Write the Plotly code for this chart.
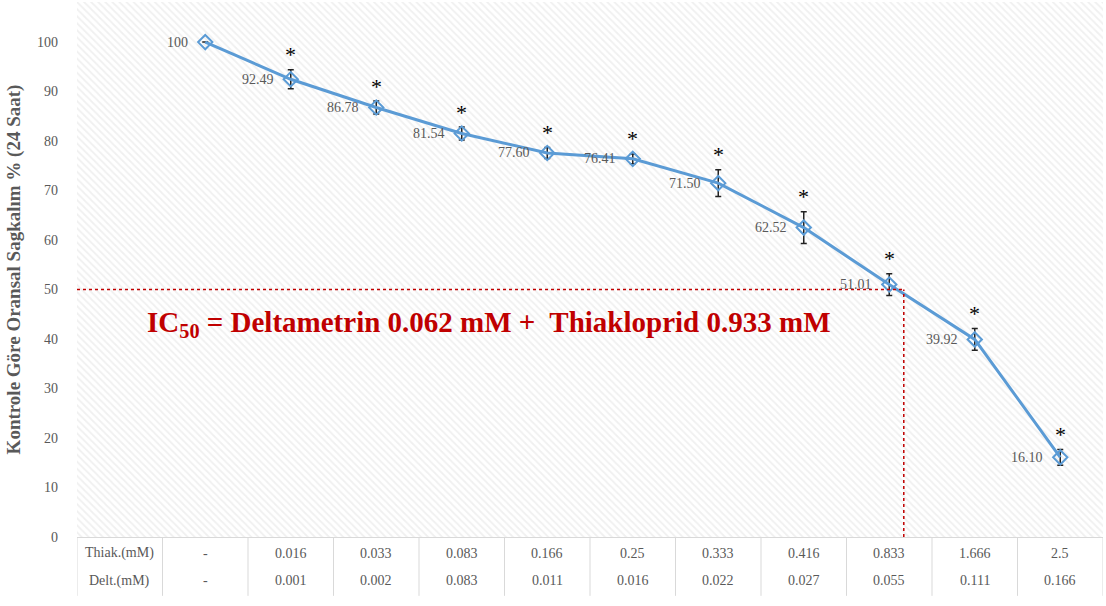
import plotly.graph_objects as go

# ---- data ----
thiak = ["-", "0.016", "0.033", "0.083", "0.166", "0.25", "0.333", "0.416", "0.833", "1.666", "2.5"]
delt = ["-", "0.001", "0.002", "0.083", "0.011", "0.016", "0.022", "0.027", "0.055", "0.111", "0.166"]
survival = [100, 92.49, 86.78, 81.54, 77.60, 76.41, 71.50, 62.52, 51.01, 39.92, 16.10]
errors = [0, 1.9, 1.3, 1.3, 1.1, 1.0, 2.7, 3.2, 2.2, 2.2, 1.6]
significant = [False, True, True, True, True, True, True, True, True, True, True]
row_labels = ["Thiak.(mM)", "Delt.(mM)"]
ic50_level = 50
ic50_pos = 8.17  # position of IC50 along the category axis
ic50_text = "IC<sub>50</sub> = Deltametrin 0.062 mM +  Thiakloprid 0.933 mM"

xs = list(range(len(survival)))
serif = "Liberation Serif"
gray = "#595959"
blue = "#5B9BD5"
YMAX = 108.1

fig = go.Figure()

# hatched background
bg_x = [-1] + xs
fig.add_trace(go.Bar(
    x=bg_x, y=[YMAX] * len(bg_x), width=1,
    marker=dict(color="white", line=dict(width=0),
                pattern=dict(shape="\\", fgcolor="#E2E2E2", bgcolor="white", size=5, solidity=0.35)),
    hoverinfo="skip", showlegend=False,
))

fig.add_trace(go.Scatter(
    x=xs, y=survival, mode="lines+markers",
    line=dict(color=blue, width=3),
    marker=dict(symbol="diamond-open", size=11, color=blue, line=dict(width=2, color=blue)),
    error_y=dict(type="data", array=errors, visible=True, color="#222222", thickness=1.5, width=3),
    showlegend=False,
))

ann = []
for x, v, e, s in zip(xs, survival, errors, significant):
    lab = f"{v:.2f}" if v != 100 else "100"
    ann.append(dict(x=x, y=v, xref="x", yref="y", text=lab, showarrow=False,
                    xanchor="right", yanchor="middle", xshift=-15,
                    font=dict(family=serif, size=14, color=gray)))
    if s:
        ann.append(dict(x=x, y=v + e, xref="x", yref="y", text="*", showarrow=False,
                        xanchor="center", yanchor="middle", yshift=15,
                        font=dict(family=serif, size=22, color="black")))

# table rows
row_y = [-0.03, -0.082]
for ry, rl, vals in zip(row_y, row_labels, [thiak, delt]):
    ann.append(dict(x=-1, y=ry, xref="x", yref="paper", text=rl, showarrow=False,
                    xanchor="center", yanchor="middle",
                    font=dict(family=serif, size=14, color=gray)))
    for x, t in zip(xs, vals):
        ann.append(dict(x=x, y=ry, xref="x", yref="paper", text=t, showarrow=False,
                        xanchor="center", yanchor="middle",
                        font=dict(family=serif, size=14, color=gray)))

ann.append(dict(x=-0.7, y=43, xref="x", yref="y", text=ic50_text, showarrow=False,
                xanchor="left", yanchor="middle",
                font=dict(family=serif, size=29, color="#C00000", weight="bold")))

shapes = []
for b in [-1.5] + [x + 0.5 for x in [-1] + xs]:
    shapes.append(dict(type="line", xref="x", yref="paper", x0=b, x1=b, y0=0, y1=-0.11,
                       line=dict(color="#D9D9D9", width=1)))
shapes.append(dict(type="line", xref="x", yref="y", x0=-1.5, x1=ic50_pos, y0=ic50_level, y1=ic50_level,
                   line=dict(color="#C00000", width=1.5, dash="dot")))
shapes.append(dict(type="line", xref="x", yref="y", x0=ic50_pos, x1=ic50_pos, y0=0, y1=ic50_level,
                   line=dict(color="#C00000", width=1.5, dash="dot")))

fig.update_layout(
    width=1106, height=606,
    margin=dict(l=77, r=3, t=2, b=69, autoexpand=False),
    paper_bgcolor="white", plot_bgcolor="white",
    annotations=ann, shapes=shapes, bargap=0,
    xaxis=dict(range=[-1.5, 10.5], tick0=-1.5, dtick=0.5, showticklabels=False,
               showgrid=True, gridcolor="#E3E3E3", gridwidth=2, zeroline=False,
               showline=True, linecolor="#D9D9D9", ticks="", automargin=False),
    yaxis=dict(range=[0, YMAX], tick0=0, dtick=10, showgrid=True, gridcolor="#E3E3E3", gridwidth=2,
               zeroline=False, showline=False, ticks="", ticklabelstandoff=18, automargin=False,
               tickfont=dict(family=serif, size=14, color=gray),
               title=dict(text="<b>Kontrole Göre Oransal Sagkalım % (24 Saat)</b>", standoff=11,
                          font=dict(family=serif, size=19, color=gray))),
)

fig.write_html("out.html", config={"displayModeBar": False},
               post_script="document.body.style.margin='0';")
